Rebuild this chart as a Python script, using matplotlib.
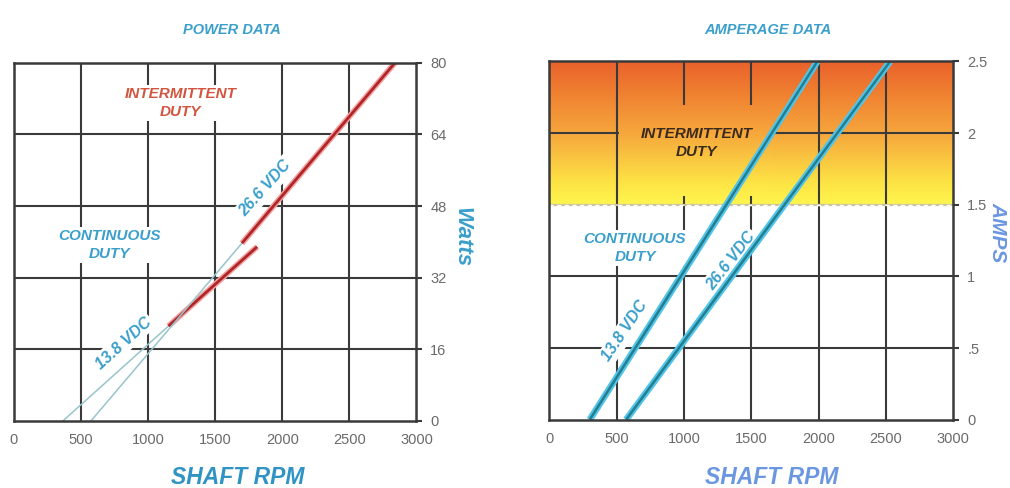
import numpy as np
import matplotlib
matplotlib.use("Agg")
import matplotlib.pyplot as plt
import matplotlib.patheffects as pe
from matplotlib.colors import LinearSegmentedColormap, Normalize

plt.rcParams['font.family'] = ['Liberation Sans', 'DejaVu Sans']

# ---- data ----
rpm_ticks = [0, 500, 1000, 1500, 2000, 2500, 3000]
watt_ticks = [0, 16, 32, 48, 64, 80]
amp_ticks = [0, 0.5, 1.0, 1.5, 2.0, 2.5]
amp_tick_labels = ['0', '.5', '1', '1.5', '2', '2.5']

# power curves: first segment is the faint extension, the rest is the rated range
p138_rpm = [366, 1153, 1813]
p138_watts = [0, 21.2, 38.9]
p266_rpm = [575, 1700, 2840]
p266_watts = [0, 39.7, 80]

# current curves
a138_rpm = [300, 1990]
a138_amps = [0, 2.5]
a266_rpm = [570, 2530]
a266_amps = [0, 2.5]

intermittent_amps = (1.5, 2.5)

BLUE = '#3a9fcb'
GRID = '#3a3a3a'
TICKC = '#6a6a6a'

fig = plt.figure(figsize=(10.10, 4.88), dpi=100)
ax1 = fig.add_axes([0.01356, 0.1373, 0.3988, 0.7342])
ax2 = fig.add_axes([0.5439, 0.1400, 0.4000, 0.7340])


def style_axes(ax, yticks, ylabels, ymax):
    ax.set_xlim(0, 3000)
    ax.set_ylim(0, ymax)
    ax.set_xticks(rpm_ticks)
    ax.set_xticklabels([str(t) for t in rpm_ticks])
    ax.set_yticks(yticks)
    ax.set_yticklabels(ylabels)
    ax.yaxis.tick_right()
    ax.tick_params(axis='x', length=0, pad=9, labelsize=10.5, labelcolor=TICKC)
    ax.tick_params(axis='y', length=4, width=1.5, color=GRID, pad=6,
                   labelsize=10.5, labelcolor=TICKC)
    for s in ax.spines.values():
        s.set_color(GRID)
        s.set_linewidth(1.8)
        s.set_zorder(5)


style_axes(ax1, watt_ticks, [str(t) for t in watt_ticks], 80)
style_axes(ax2, amp_ticks, amp_tick_labels, 2.5)

# ---- gridlines ----
for ax, yt in ((ax1, watt_ticks[1:-1]), (ax2, [0.5, 1.0, 2.0])):
    ax.vlines(rpm_ticks[1:-1], 0, 1, transform=ax.get_xaxis_transform(),
              color=GRID, lw=1.5, zorder=1)
    ax.hlines(yt, 0, 1, transform=ax.get_yaxis_transform(),
              color=GRID, lw=1.5, zorder=1)

# ---- intermittent band gradient ----
heat = LinearSegmentedColormap.from_list(
    'heat', [(0.0, '#fff64e'), (0.15, '#fde445'), (0.5, '#f6a63c'),
             (0.8, '#ef7d30'), (1.0, '#e9612b')])
hnorm = Normalize(*intermittent_amps)


def band(ax, x0, x1, y0, y1, z):
    vals = np.linspace(y0, y1, 256).reshape(-1, 1)
    ax.imshow(vals, cmap=heat, norm=hnorm, origin='lower', aspect='auto',
              extent=[x0, x1, y0, y1], zorder=z, interpolation='bilinear')


band(ax2, 0, 3000, intermittent_amps[0], intermittent_amps[1], 0)
# clear area behind the intermittent-duty caption
band(ax2, 520, 1650, 1.56, 2.19, 1.5)
ax2.axhline(intermittent_amps[0], color='#c9c29a', lw=1.6, zorder=1.6)
ax2.axhline(intermittent_amps[0], color='white', lw=1.0,
            ls=(0, (3, 2.5)), zorder=1.7)
ax2.set_xlim(0, 3000)
ax2.set_ylim(0, 2.5)

# ---- curves ----
red_fx = [pe.Stroke(linewidth=4.2, foreground='#f2a0a0'), pe.Normal()]
blue_fx = [pe.Stroke(linewidth=4.8, foreground='#52c4ea'), pe.Normal()]

for r, w in ((p138_rpm, p138_watts), (p266_rpm, p266_watts)):
    ax1.plot(r[:2], w[:2], color='#98c4cb', lw=1.1, zorder=4)
    ax1.plot(r[1:], w[1:], color='#b02628', lw=2.0, zorder=4,
             solid_capstyle='butt', path_effects=red_fx)

for r, a in ((a138_rpm, a138_amps), (a266_rpm, a266_amps)):
    ax2.plot(r, a, color='#237f8e', lw=1.8, zorder=4,
             solid_capstyle='butt', path_effects=blue_fx)

# ---- captions ----
cap = dict(fontweight='bold', style='italic', ha='center', va='center',
           linespacing=1.35, zorder=3)
wbox = dict(boxstyle='square,pad=0.15', fc='white', ec='none')

ax1.text(1241, 71, 'INTERMITTENT\nDUTY', color='#d2553f', fontsize=11,
         bbox=wbox, **cap)
ax1.text(711, 39.3, 'CONTINUOUS\nDUTY', color=BLUE, fontsize=11,
         bbox=wbox, **cap)
ax1.text(816, 17.4, '13.8 VDC', color=BLUE, fontsize=11.5, rotation=42,
         rotation_mode='anchor', bbox=wbox, **cap)
ax1.text(1875, 52, '26.6 VDC', color=BLUE, fontsize=11.5, rotation=48,
         rotation_mode='anchor', bbox=wbox, **cap)

ax2.text(1094, 1.93, 'INTERMITTENT\nDUTY', color='#3a2a1c', fontsize=11,
         **cap)
ax2.text(636, 1.20, 'CONTINUOUS\nDUTY', color=BLUE, fontsize=11,
         bbox=wbox, **cap)
ax2.text(561, 0.62, '13.8 VDC', color=BLUE, fontsize=11.5, rotation=56,
         rotation_mode='anchor', bbox=wbox, **cap)
ax2.text(1346, 1.11, '26.6 VDC', color=BLUE, fontsize=11.5, rotation=52,
         rotation_mode='anchor', bbox=wbox, **cap)

# ---- titles and axis names ----
def ftext(x, y, s, **kw):
    fig.text(x / 1010, 1 - y / 488, s, ha='center', va='center',
             fontweight='bold', style='italic', **kw)


ftext(232, 30, 'POWER DATA', color=BLUE, fontsize=10.5)
ftext(768, 30, 'AMPERAGE DATA', color=BLUE, fontsize=10.5)
ftext(238, 477, 'SHAFT RPM', color='#2f93c4', fontsize=16.5)
ftext(772, 477, 'SHAFT RPM', color='#6b97e0', fontsize=16.5)
ftext(462, 237, 'Watts', color=BLUE, fontsize=16, rotation=-90)
ftext(998, 232, 'AMPS', color='#6b97e0', fontsize=15, rotation=-90)

fig.savefig('out.png', dpi=100)
